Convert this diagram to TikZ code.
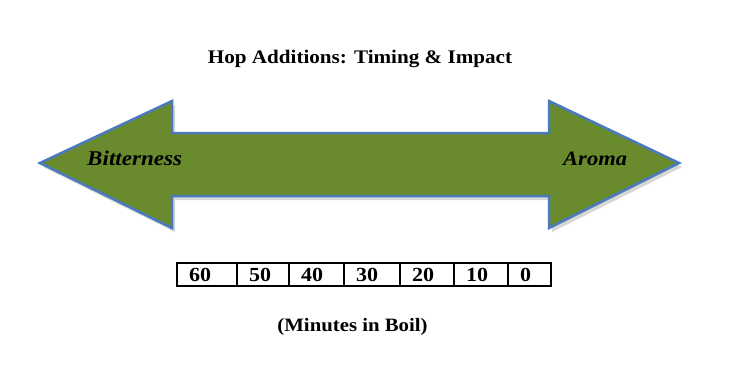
\documentclass[tikz,border=0pt]{standalone}
\usepackage{fontspec}
\setmainfont{Liberation Serif}
\newfontfamily\widefont[FakeStretch=1.1]{Liberation Serif}
\usetikzlibrary{shadows}
\definecolor{hopgreen}{RGB}{106,138,46}
\definecolor{hopblue}{RGB}{74,122,190}
\begin{document}
\begin{tikzpicture}[x=1pt,y=-1pt,
  lbl/.style={inner sep=0pt, anchor=base},
  cell/.style={draw=black, line width=1.2pt, minimum height=23pt, inner sep=0pt},
  num/.style={font=\widefont\bfseries\fontsize{20}{22}\selectfont, inner sep=0pt, anchor=base west}]
\useasboundingbox[fill=white] (0,0) rectangle (750,365);
\node[lbl, font=\widefont\bfseries\fontsize{19.2}{22}\selectfont] (title) at (360,63) {Hop Additions: Timing \& Impact};
\draw[fill=hopgreen, draw=hopblue, line width=2.5pt, line join=miter,
  drop shadow={shadow xshift=3pt, shadow yshift=-4pt, opacity=0.3, fill=gray}]
  (40,163) -- (172,101) -- (172,133) -- (549,133) -- (549,101) -- (679,163)
  -- (549,228) -- (549,196) -- (172,196) -- (172,228) -- cycle;
\node[inner sep=0pt, anchor=base west, font=\widefont\bfseries\itshape\fontsize{21}{22}\selectfont] (bitter) at (87,165) {Bitterness};
\node[inner sep=0pt, anchor=base west, font=\widefont\bfseries\itshape\fontsize{20.5}{22}\selectfont] (aroma) at (563,165) {Aroma};
\foreach \l/\r/\t [count=\i] in {177/237/60, 237/289/50, 289/344/40, 344/400/30, 400/454/20, 454/508/10, 508/551/0}{
  \node[cell, minimum width={\r-\l}] (c\i) at ({(\l+\r)/2},274.5) {};
  \node[num] (t\i) at ({\l+12},281) {\t};
}
\node[lbl, font=\widefont\bfseries\fontsize{18.9}{22}\selectfont] (minutes) at (352.5,331) {(Minutes in Boil)};
\end{tikzpicture}
\end{document}
